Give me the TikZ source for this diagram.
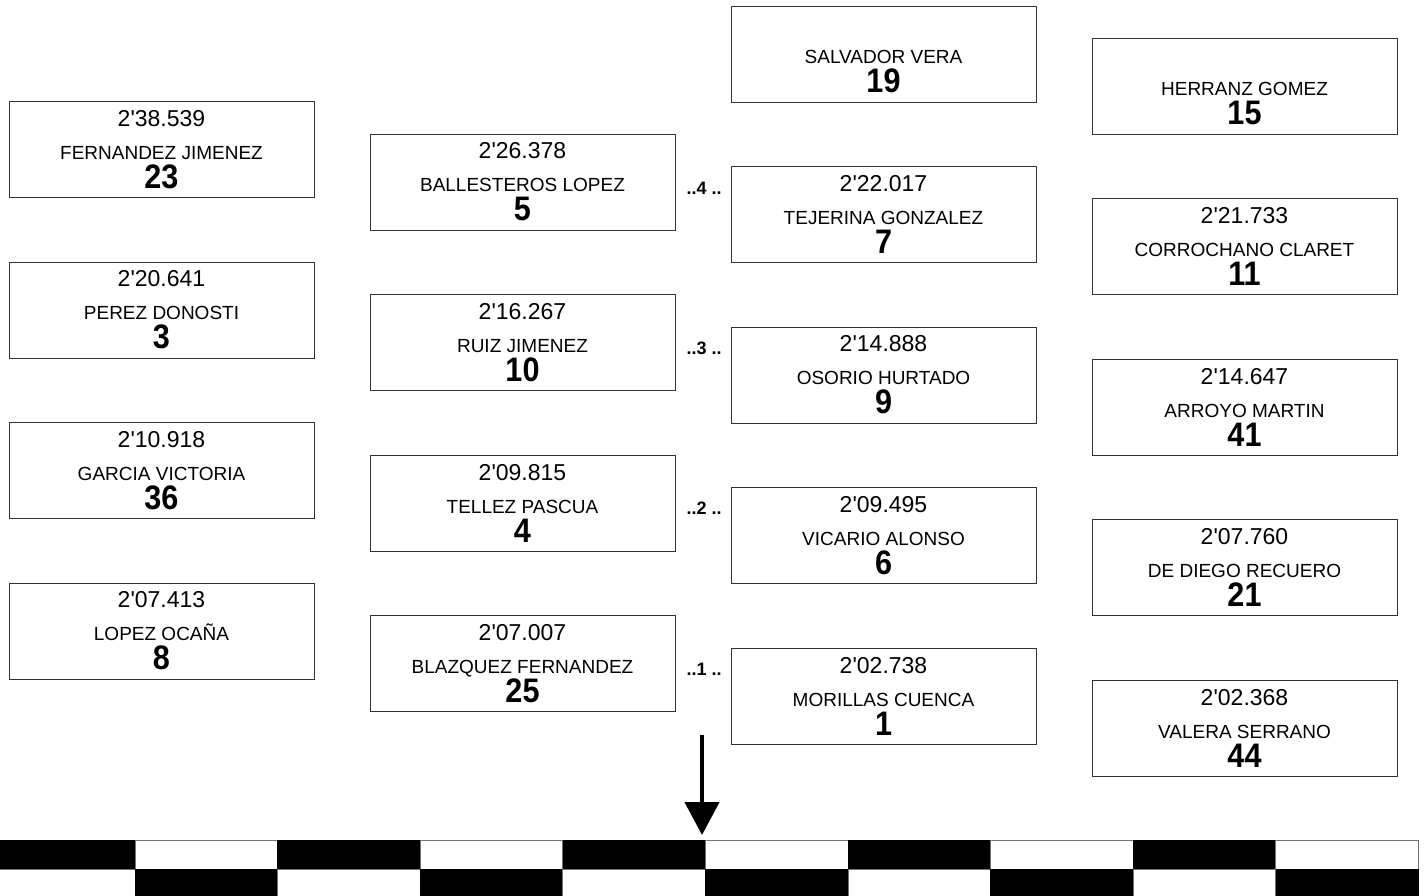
\documentclass[tikz,border=0pt]{standalone}
\usepackage{fontspec}
\setmainfont{Liberation Sans}[Ligatures=TeXOff]
\newfontfamily\numfamily{Liberation Sans}[FakeStretch=0.9]
\newcommand{\timefont}{\fontsize{23pt}{23pt}\selectfont}
\newcommand{\numfont}{\numfamily\bfseries\fontsize{34pt}{34pt}\selectfont}
\usetikzlibrary{arrows.meta}

\begin{document}
\begin{tikzpicture}[
  x=1pt, y=-1pt,
  box/.style={draw=black!80, line width=1pt, minimum width=305pt, minimum height=96pt,
    inner sep=0pt, align=center, font=\fontsize{19pt}{29pt}\selectfont},
  rowlabel/.style={inner sep=0pt, font=\bfseries\fontsize{18pt}{18pt}\selectfont},
  arr/.style={-{Triangle[width=34pt,length=33pt]}, line width=4.5pt},
  flagblack/.style={fill=black, draw=black},
  flagwhite/.style={fill=white, draw=black!55, line width=0.8pt}
]
\useasboundingbox (0,0) rectangle (1424,895);

% first column
\node[box] (fernandez) at (161.5,149.5) {\timefont 2'38.539\\[4pt] FERNANDEZ JIMENEZ\\ \numfont 23};
\node[box] (perez) at (161.5,310) {\timefont 2'20.641\\[4pt] PEREZ DONOSTI\\ \numfont 3};
\node[box] (garcia) at (161.5,470.5) {\timefont 2'10.918\\[4pt] GARCIA VICTORIA\\ \numfont 36};
\node[box] (lopez) at (161.5,631) {\timefont 2'07.413\\[4pt] LOPEZ OCAÑA\\ \numfont 8};

% second column
\node[box] (ballesteros) at (522.5,182) {\timefont 2'26.378\\[4pt] BALLESTEROS LOPEZ\\ \numfont 5};
\node[box] (ruiz) at (522.5,342.5) {\timefont 2'16.267\\[4pt] RUIZ JIMENEZ\\ \numfont 10};
\node[box] (tellez) at (522.5,503) {\timefont 2'09.815\\[4pt] TELLEZ PASCUA\\ \numfont 4};
\node[box] (blazquez) at (522.5,663.5) {\timefont 2'07.007\\[4pt] BLAZQUEZ FERNANDEZ\\ \numfont 25};

% third column
\node[box] (salvador) at (883.5,54) {\timefont\vphantom{0}\\[4pt] SALVADOR VERA\\ \numfont 19};
\node[box] (tejerina) at (883.5,214.5) {\timefont 2'22.017\\[4pt] TEJERINA GONZALEZ\\ \numfont 7};
\node[box] (osorio) at (883.5,375) {\timefont 2'14.888\\[4pt] OSORIO HURTADO\\ \numfont 9};
\node[box] (vicario) at (883.5,535.5) {\timefont 2'09.495\\[4pt] VICARIO ALONSO\\ \numfont 6};
\node[box] (morillas) at (883.5,696) {\timefont 2'02.738\\[4pt] MORILLAS CUENCA\\ \numfont 1};

% fourth column
\node[box] (herranz) at (1244.5,86) {\timefont\vphantom{0}\\[4pt] HERRANZ GOMEZ\\ \numfont 15};
\node[box] (corrochano) at (1244.5,246.5) {\timefont 2'21.733\\[4pt] CORROCHANO CLARET\\ \numfont 11};
\node[box] (arroyo) at (1244.5,407) {\timefont 2'14.647\\[4pt] ARROYO MARTIN\\ \numfont 41};
\node[box] (dediego) at (1244.5,567.5) {\timefont 2'07.760\\[4pt] DE DIEGO RECUERO\\ \numfont 21};
\node[box] (valera) at (1244.5,728) {\timefont 2'02.368\\[4pt] VALERA SERRANO\\ \numfont 44};

% row numbers
\node[rowlabel] (row4) at (704,188) {..4 ..};
\node[rowlabel] (row3) at (704,348) {..3 ..};
\node[rowlabel] (row2) at (704,508) {..2 ..};
\node[rowlabel] (row1) at (704,669) {..1 ..};

% finish line
\foreach \k [evaluate=\k as \xa using -7.6+142.6*\k] in {0,...,9} {
  \ifodd\k
    \filldraw[flagwhite] (\xa,840) rectangle ++(142.6,29.5);
    \filldraw[flagblack] (\xa,869.5) rectangle ++(142.6,30);
  \else
    \filldraw[flagblack] (\xa,840) rectangle ++(142.6,29.5);
    \filldraw[flagwhite] (\xa,869.5) rectangle ++(142.6,30);
  \fi
}

\coordinate (arrowstart) at (702,735);
\coordinate (arrowend) at (702,835);
\draw[arr] (arrowstart) -- (arrowend);

\end{tikzpicture}
\end{document}
